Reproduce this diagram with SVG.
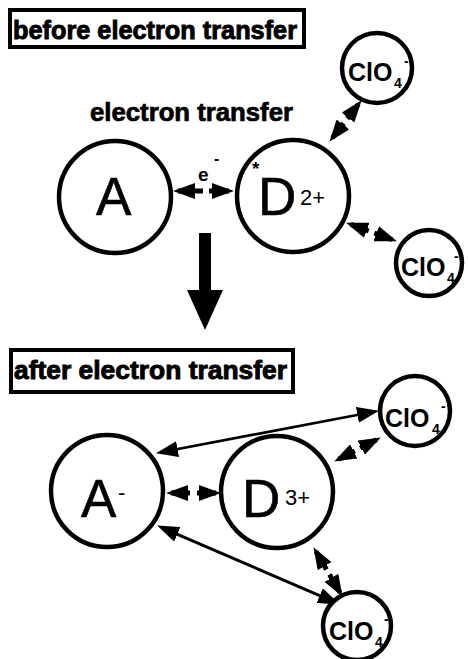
<svg xmlns="http://www.w3.org/2000/svg" width="468" height="659" viewBox="0 0 468 659">
<style>
.ion{fill:#fff;stroke:#000;stroke-width:4.5}
.ring{fill:#fff;stroke:#000;stroke-width:4.5}
.big{font-family:"Liberation Sans",Arial,sans-serif;font-size:53px;fill:#000;stroke:#000;stroke-width:0.6}
.sup{font-family:"Liberation Sans",Arial,sans-serif;font-size:22px;fill:#000}
.cl{font-family:"Liberation Sans",Arial,sans-serif;font-size:25px;font-weight:bold;fill:#000}
.sub{font-family:"Liberation Sans",Arial,sans-serif;font-size:14px;font-weight:bold;fill:#000}
.hdr{font-family:"Liberation Sans",Arial,sans-serif;font-size:25px;font-weight:bold;fill:#000;stroke:#000;stroke-width:0.9}
.box{fill:#fff;stroke:#000;stroke-width:4}
.thick{fill:none;stroke:#000;stroke-width:5;marker-start:url(#ah);marker-end:url(#ah)}
.thin{fill:none;stroke:#000;stroke-width:2.6;marker-start:url(#ah);marker-end:url(#ah)}
</style>
<defs>
<marker id="ah" viewBox="0 0 22 16" refX="17" refY="8" markerWidth="22" markerHeight="16" markerUnits="userSpaceOnUse" orient="auto-start-reverse">
<path d="M0,0 L22,8 L0,16 z" fill="#000"/>
</marker>
</defs>
<rect width="468" height="659" fill="#fff"/>

<g id="label-before">
<rect class="box" x="10" y="10" width="294" height="37"/>
<text class="hdr" x="13" y="39" textLength="284" lengthAdjust="spacingAndGlyphs">before electron transfer</text>
</g>
<g id="label-et">
<text class="hdr" x="90" y="121" textLength="203" lengthAdjust="spacingAndGlyphs" style="stroke-width:0.7">electron transfer</text>
</g>
<g id="label-after">
<rect class="box" x="11" y="350" width="282" height="42"/>
<text class="hdr" x="14" y="379" textLength="273" lengthAdjust="spacingAndGlyphs">after electron transfer</text>
</g>

<g id="connectors">
<path class="thick" d="M178,191 H203 M209,191 H229"/>
<path class="thick" d="M332.5,137.8 L343.7,123.4 M347.3,118.6 L358.5,104.2"/>
<path class="thick" d="M350.8,224.4 L368.7,231 M374.3,233 L392.2,239.6"/>
<polygon points="199,233 211,233 211,290 223,290 205,330 187,290 199,290" fill="#000"/>
<path class="thin" d="M160.9,452.3 L374.1,411.7"/>
<path class="thick" d="M338.6,459.2 L354.8,450.9 M360.2,448.1 L376.4,439.8"/>
<path class="thick" d="M171,493 H190 M197,493 H216"/>
<path class="thin" d="M161.7,527.6 L335.3,602.4" style="stroke-width:3"/>
<path class="thick" d="M316,551.5 L326.5,569.4 M329.5,574.6 L340,592.5"/>
</g>

<g id="node-A">
<circle class="ring" cx="115" cy="197" r="56"/>
<text class="big" x="96" y="215">A</text>
</g>
<g id="node-D">
<circle class="ring" cx="293" cy="196" r="56"/>
<text class="big" x="258" y="215">D</text>
<text class="sup" x="300" y="205">2+</text>
<text class="sup" x="252" y="175" style="font-weight:bold;font-size:19px">*</text>
</g>
<g id="label-e">
<text class="cl" x="198" y="181" style="font-size:19px">e</text>
<text class="sub" x="214" y="164" style="font-size:16px">-</text>
</g>
<g id="node-ClO4-1">
<circle class="ion" cx="377" cy="68" r="35"/>
<text class="cl" x="348" y="81">ClO</text>
<text class="sub" x="394" y="88">4</text>
<text class="sub" x="404" y="66">-</text>
</g>
<g id="node-ClO4-2">
<circle class="ion" cx="429" cy="263" r="33"/>
<text class="cl" x="401" y="276">ClO</text>
<text class="sub" x="447" y="283">4</text>
<text class="sub" x="454" y="261">-</text>
</g>

<g id="node-Aminus">
<circle class="ring" cx="107" cy="491" r="56"/>
<text class="big" x="81" y="517">A</text>
<text class="sup" x="118" y="500">-</text>
</g>
<g id="node-D3">
<circle class="ring" cx="277" cy="492" r="56"/>
<text class="big" x="242" y="517">D</text>
<text class="sup" x="285" y="505">3+</text>
</g>
<g id="node-ClO4-3">
<circle class="ion" cx="415" cy="411" r="35"/>
<text class="cl" x="385" y="427">ClO</text>
<text class="sub" x="432" y="434">4</text>
<text class="sub" x="441" y="411">-</text>
</g>
<g id="node-ClO4-4">
<circle class="ion" cx="357" cy="626" r="34"/>
<text class="cl" x="329" y="640">ClO</text>
<text class="sub" x="375" y="647">4</text>
<text class="sub" x="384" y="624">-</text>
</g>
</svg>
